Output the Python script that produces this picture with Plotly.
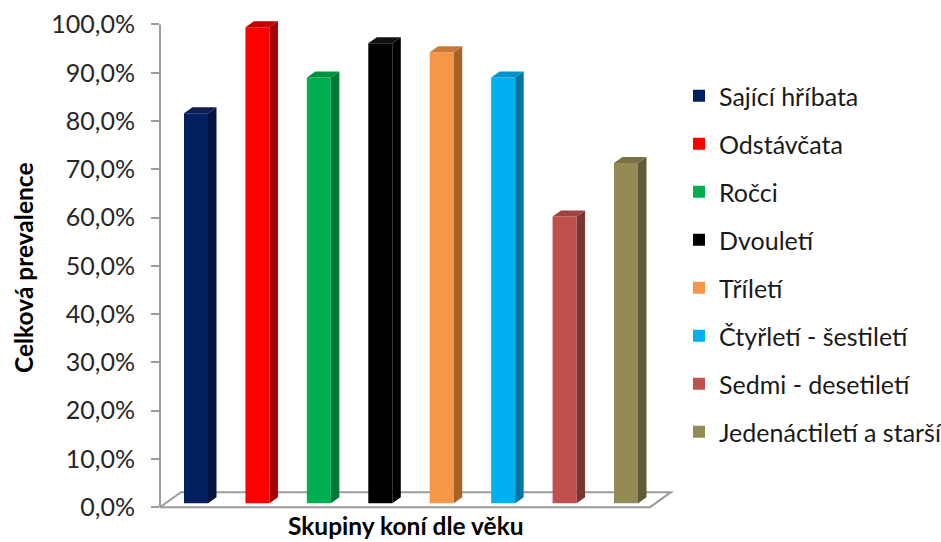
import plotly.graph_objects as go

# Age groups of horses and total prevalence (%)
categories = [
    "Sající hříbata",
    "Odstávčata",
    "Ročci",
    "Dvouletí",
    "Tříletí",
    "Čtyřletí - šestiletí",
    "Sedmi - desetiletí",
    "Jedenáctiletí a starší",
]
prevalence = [80.8, 98.6, 88.2, 95.3, 93.4, 88.2, 59.4, 70.5]

tick_values = [0, 10, 20, 30, 40, 50, 60, 70, 80, 90, 100]
tick_labels = ["0,0%", "10,0%", "20,0%", "30,0%", "40,0%", "50,0%",
               "60,0%", "70,0%", "80,0%", "90,0%", "100,0%"]

front_colors = ["#002060", "#FF0000", "#00B050", "#000000",
                "#F79646", "#00B0F0", "#C0504D", "#948A54"]
side_colors = ["#00143F", "#A30000", "#007836", "#000000",
               "#A5622A", "#0074A0", "#7E3331", "#605A37"]
top_colors = ["#0A1C50", "#C40000", "#00923F", "#111111",
              "#C7793A", "#0094CA", "#A04240", "#7A7147"]

# ---- geometry of the pseudo-3D scene ----
W, H = 941, 542
M_L, M_R, M_T, M_B = 160, 261, 10, 30
PLOT_W = W - M_L - M_R
PLOT_H = H - M_T - M_B
Y_RANGE = [-1, 103]
PX_PER_Y = PLOT_H / (Y_RANGE[1] - Y_RANGE[0])
PX_PER_X = 61.43
X_MIN = -36 / PX_PER_X
X_RANGE = [X_MIN, X_MIN + PLOT_W / PX_PER_X]

BAR_W = 24 / PX_PER_X          # front face width
DEPTH_X = 8.5 / PX_PER_X       # bar depth, horizontal component
DEPTH_Y = 6 / PX_PER_Y         # bar depth, vertical component
BAR_LIFT = 4 / PX_PER_Y        # bars stand a little back from the floor's front edge

FLOOR_DX = 21 / PX_PER_X
FLOOR_DY = 15 / PX_PER_Y
FLOOR_RIGHT = X_MIN + 490 / PX_PER_X

AXIS_GRAY = "#9C9C9C"
FONT = "Lato"

fig = go.Figure()

for i, (name, v) in enumerate(zip(categories, prevalence)):
    # front face
    fig.add_trace(go.Bar(
        x=[i], y=[v], width=BAR_W, name=name,
        marker=dict(color=front_colors[i], line=dict(width=0)),
        legendgroup=name, yaxis="y2", hoverinfo="name+y",
    ))
    xr = i + BAR_W / 2
    xl = i - BAR_W / 2
    # right side face
    fig.add_trace(go.Scatter(
        x=[xr, xr + DEPTH_X, xr + DEPTH_X, xr, xr],
        y=[0, DEPTH_Y, v + DEPTH_Y, v, 0],
        fill="toself", fillcolor=side_colors[i], mode="lines",
        line=dict(width=0, color=side_colors[i]),
        showlegend=False, legendgroup=name, yaxis="y2", hoverinfo="skip",
    ))
    # top face
    fig.add_trace(go.Scatter(
        x=[xl, xl + DEPTH_X, xr + DEPTH_X, xr, xl],
        y=[v, v + DEPTH_Y, v + DEPTH_Y, v, v],
        fill="toself", fillcolor=top_colors[i], mode="lines",
        line=dict(width=0, color=top_colors[i]),
        showlegend=False, legendgroup=name, yaxis="y2", hoverinfo="skip",
    ))

# floor of the 3D box
floor_path = (
    f"M {X_MIN},0 L {FLOOR_RIGHT},0 "
    f"L {FLOOR_RIGHT + FLOOR_DX},{FLOOR_DY} L {X_MIN + FLOOR_DX},{FLOOR_DY} Z"
)
fig.add_shape(type="path", path=floor_path, xref="x", yref="y",
              line=dict(color=AXIS_GRAY, width=2), fillcolor="white",
              layer="below")
# vertical value axis line
fig.add_shape(type="line", xref="x domain", yref="y",
              x0=0, x1=0, y0=0, y1=100,
              line=dict(color=AXIS_GRAY, width=2), layer="above")

fig.update_layout(
    width=W, height=H,
    margin=dict(l=M_L, r=M_R, t=M_T, b=M_B, pad=0, autoexpand=False),
    paper_bgcolor="white", plot_bgcolor="white",
    barmode="overlay",
    showlegend=True,
    legend=dict(
        x=(679 - M_L) / PLOT_W, xanchor="left",
        y=1 - (264 - M_T) / PLOT_H, yanchor="middle",
        font=dict(family=FONT, size=25, color="#1A1A1A"),
        tracegroupgap=12.5, itemwidth=30, bgcolor="rgba(0,0,0,0)",
    ),
    xaxis=dict(range=X_RANGE, visible=False, fixedrange=True),
    yaxis=dict(
        range=Y_RANGE, tickvals=tick_values, ticktext=tick_labels,
        showgrid=False, zeroline=False, showline=False,
        ticks="outside", ticklen=8, tickwidth=2, tickcolor=AXIS_GRAY,
        tickfont=dict(family=FONT, size=25, color="#262626"),
        ticklabelstandoff=11,
    ),
    yaxis2=dict(
        range=[Y_RANGE[0] - BAR_LIFT, Y_RANGE[1] - BAR_LIFT],
        overlaying="y", visible=False,
    ),
    annotations=[
        dict(text="<b>Celková prevalence</b>", textangle=-90,
             xref="paper", yref="paper",
             x=(23 - M_L) / PLOT_W, y=1 - (268 - M_T) / PLOT_H,
             xanchor="center", yanchor="middle", showarrow=False,
             font=dict(family=FONT, size=24.5, color="#000000")),
        dict(text="<b>Skupiny koní dle věku</b>",
             xref="paper", yref="paper",
             x=(406 - M_L) / PLOT_W, y=1 - (541.5 - M_T) / PLOT_H,
             xanchor="center", yanchor="bottom", showarrow=False,
             font=dict(family=FONT, size=24.5, color="#000000")),
    ],
)

fig.write_html("out.html")
